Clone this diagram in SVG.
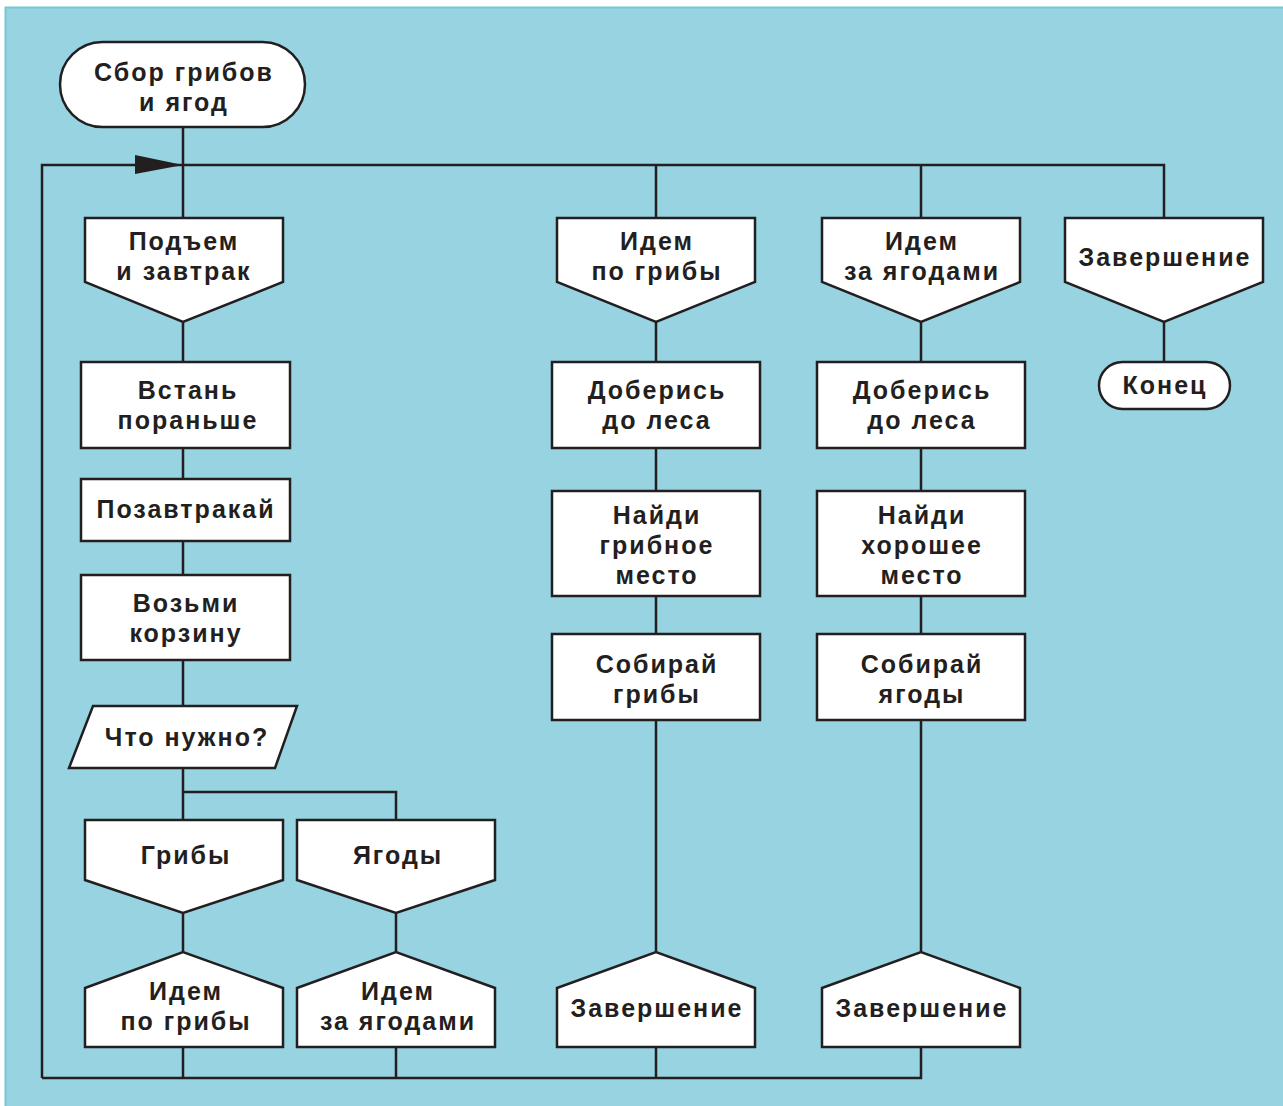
<svg xmlns="http://www.w3.org/2000/svg" width="1283" height="1106" viewBox="0 0 1283 1106">
<style>
.s{fill:#fff;stroke:#231f20;stroke-width:2.5}
.c{fill:none;stroke:#231f20;stroke-width:2.5}
text{font-family:"Liberation Sans",Arial,sans-serif;font-weight:bold;font-size:25px;fill:#231f20;text-anchor:middle;letter-spacing:2px}
</style>
<rect x="0" y="0" width="1283" height="1106" fill="#fff"/>
<rect x="5.5" y="7.5" width="1280" height="1102" fill="#97d3e0" stroke="#78c6d6" stroke-width="2"/>
<g id="connectors">
<path class="c" d="M183 127V218M183 322V362M183 448V479M183 541V575M183 660V706M183 768V820M183 792H396V820M183 913V952M396 913V952M183 1047V1078M396 1047V1078M42 1078H921V1047M656 1047V1078"/>
<path class="c" d="M42 1078V165H1164V218M656 165V218M921 165V218"/>
<path class="c" d="M656 322V362M656 448V491M656 596V634M656 720V952M921 322V362M921 448V491M921 596V634M921 720V952M1164 322V362"/>
<polygon points="135,155 183,165 135,174" fill="#231f20"/>
</g>
<g id="start"><rect class="s" x="60" y="42" width="245" height="85" rx="42.5"/><text x="184" y="81">Сбор грибов</text><text x="184" y="111">и ягод</text></g>
<g id="n1"><polygon class="s" points="85,218 283,218 283,282 183,322 85,282"/><text x="184" y="250">Подъем</text><text x="184" y="280">и завтрак</text></g>
<g id="n2"><rect class="s" x="81" y="362" width="209" height="86"/><text x="188" y="399">Встань</text><text x="188" y="429">пораньше</text></g>
<g id="n3"><rect class="s" x="81" y="479" width="209" height="62"/><text x="186" y="518">Позавтракай</text></g>
<g id="n4"><rect class="s" x="81" y="575" width="209" height="85"/><text x="186" y="612">Возьми</text><text x="186" y="642">корзину</text></g>
<g id="n5"><polygon class="s" points="93,706 297,706 275,768 69,768"/><text x="187" y="746">Что нужно?</text></g>
<g id="n6"><polygon class="s" points="85,820 283,820 283,880 183,913 85,880"/><text x="186" y="864">Грибы</text></g>
<g id="n7"><polygon class="s" points="297,820 495,820 495,880 396,913 297,880"/><text x="398" y="864">Ягоды</text></g>
<g id="n8"><polygon class="s" points="85,988 183,952 283,988 283,1047 85,1047"/><text x="186" y="1000">Идем</text><text x="186" y="1030">по грибы</text></g>
<g id="n9"><polygon class="s" points="297,988 396,952 495,988 495,1047 297,1047"/><text x="398" y="1000">Идем</text><text x="398" y="1030">за ягодами</text></g>
<g id="m1"><polygon class="s" points="557,218 755,218 755,282 656,322 557,282"/><text x="657" y="250">Идем</text><text x="657" y="280">по грибы</text></g>
<g id="m2"><rect class="s" x="552" y="362" width="208" height="86"/><text x="657" y="399">Доберись</text><text x="657" y="429">до леса</text></g>
<g id="m3"><rect class="s" x="552" y="491" width="208" height="105"/><text x="657" y="524">Найди</text><text x="657" y="554">грибное</text><text x="657" y="584">место</text></g>
<g id="m4"><rect class="s" x="552" y="634" width="208" height="86"/><text x="657" y="673">Собирай</text><text x="657" y="703">грибы</text></g>
<g id="m5"><polygon class="s" points="557,988 656,952 755,988 755,1047 557,1047"/><text x="657" y="1017">Завершение</text></g>
<g id="b1"><polygon class="s" points="822,218 1020,218 1020,282 921,322 822,282"/><text x="922" y="250">Идем</text><text x="922" y="280">за ягодами</text></g>
<g id="b2"><rect class="s" x="817" y="362" width="208" height="86"/><text x="922" y="399">Доберись</text><text x="922" y="429">до леса</text></g>
<g id="b3"><rect class="s" x="817" y="491" width="208" height="105"/><text x="922" y="524">Найди</text><text x="922" y="554">хорошее</text><text x="922" y="584">место</text></g>
<g id="b4"><rect class="s" x="817" y="634" width="208" height="86"/><text x="922" y="673">Собирай</text><text x="922" y="703">ягоды</text></g>
<g id="b5"><polygon class="s" points="822,988 921,952 1020,988 1020,1047 822,1047"/><text x="922" y="1017">Завершение</text></g>
<g id="e1"><polygon class="s" points="1065,218 1263,218 1263,282 1164,322 1065,282"/><text x="1165" y="266">Завершение</text></g>
<g id="end"><rect class="s" x="1099" y="362" width="131" height="47" rx="23.5"/><text x="1165" y="394">Конец</text></g>
</svg>
